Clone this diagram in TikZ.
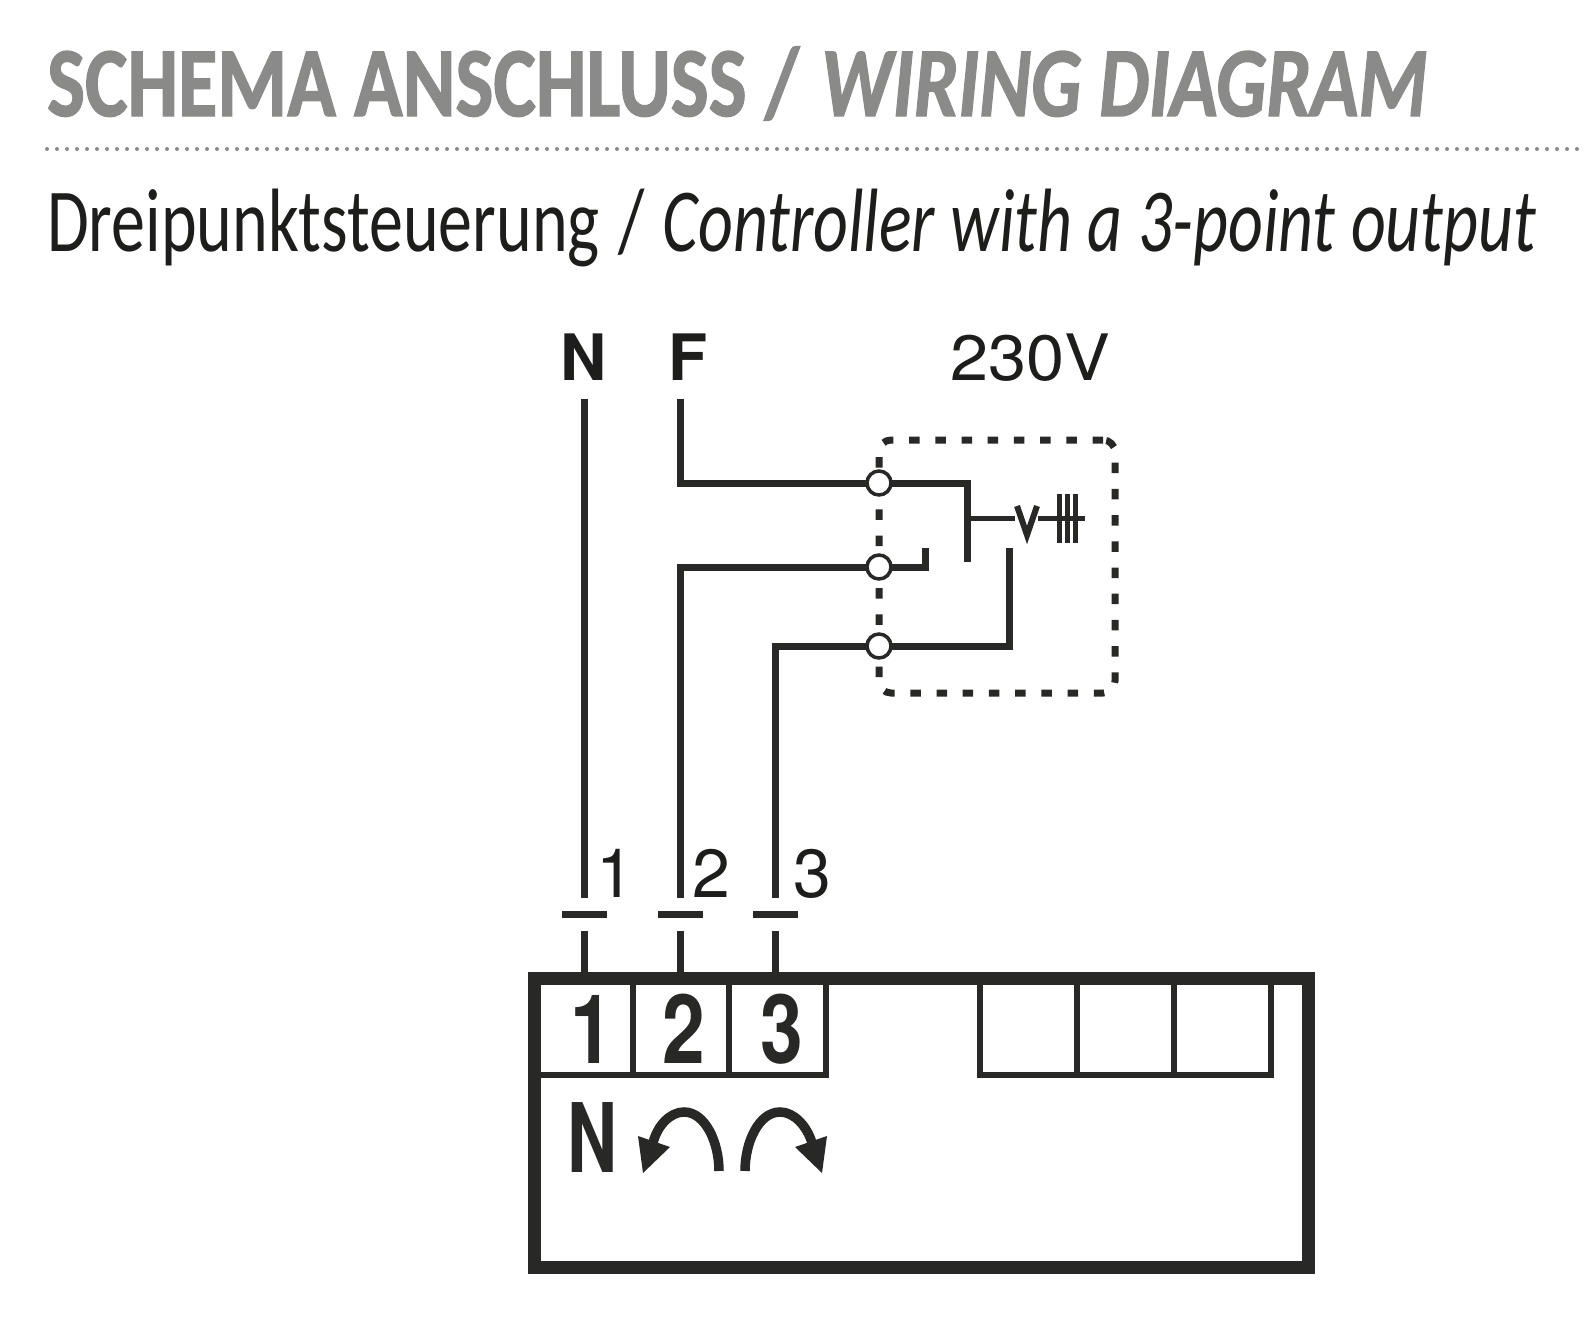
\documentclass[tikz,border=0pt]{standalone}
\usepackage{fontspec}
\usetikzlibrary{positioning}
\setmainfont{TeX Gyre Heros}
\newfontfamily\headfont[BoldFeatures={FakeBold=1.5},BoldItalicFeatures={FakeBold=1.5}]{Carlito}
\definecolor{headgray}{HTML}{8A8A89}
\definecolor{ink}{HTML}{282826}
\definecolor{letter}{HTML}{1D1D1B}
\tikzset{auto, minimum size=0pt, node distance=1cm, inner sep=0pt}
\tikzstyle{input} = [coordinate]
\tikzstyle{wire} = [draw=ink, line width=7pt]
\tikzstyle{thin wire} = [draw=ink, line width=5pt]
\tikzstyle{term} = [draw=ink, fill=white, circle, line width=3.5pt, minimum size=24pt, outer sep=0pt]
\tikzstyle{cell} = [draw=ink, rectangle, line width=5.5pt, minimum width=97pt, minimum height=97pt, outer sep=0pt]
\tikzstyle{bar} = [fill=ink, rectangle, minimum width=45pt, minimum height=7pt]
\tikzstyle{relay} = [draw=ink, line width=7pt, rectangle, rounded corners=12pt, dash pattern=on 10.5pt off 15.7pt, minimum width=236pt, minimum height=253pt]
\tikzstyle{digit} = [font=\fontsize{96}{96}\selectfont\bfseries, text=ink, anchor=base, xscale=0.8, transform shape]
\tikzstyle{pin} = [font=\fontsize{68}{68}\selectfont, text=letter, anchor=base]
\tikzstyle{supply} = [font=\fontsize{64}{64}\selectfont, text=letter, anchor=base]
\tikzstyle{turn} = [draw=ink, line width=9.5pt]
\tikzstyle{title} = [anchor=base west, text=headgray, font=\headfont\fontsize{99}{99}\selectfont\bfseries, transform shape]
\begin{document}
\begin{tikzpicture}[x=1pt, y=-1pt]
		\useasboundingbox (0,0) rectangle (1585,1333);

		\node [title, xscale=0.81] (title_de) at (47,116) {SCHEMA ANSCHLUSS /};
		\node [title, xscale=0.797] (title_en) at (821,116) {\itshape WIRING DIAGRAM};
		\coordinate (rule_l) at (47,149);
		\coordinate (rule_r) at (1585,149);
		\draw [headgray, line width=4pt, line cap=round, dash pattern=on 0pt off 10pt] (rule_l) -- (rule_r);
		\node [anchor=base west, text=letter, font=\headfont\fontsize{90}{90}\selectfont, xscale=0.755, transform shape] (subtitle) at (47,251) {Dreipunktsteuerung\hspace{4pt} / \hspace{4pt}\itshape Controller with a 3-point output};

		\node [supply, font=\fontsize{64}{64}\selectfont\bfseries] (lbl_n) at (584,380) {N};
		\node [supply, font=\fontsize{64}{64}\selectfont\bfseries] (lbl_f) at (688,380) {F};
		\node [supply, xscale=1.07, transform shape] (lbl_v) at (1030,380) {230V};

		\node [input] (in_n) at (584,399) {};
		\node [input, right=96pt of in_n] (in_f) {};

		\node [relay] (rel) at (997,566.5) {};
		\node [term] (term_f) at (879,483) {};
		\node [term, below=60pt of term_f] (term_a) {};
		\node [term, below=55pt of term_a] (term_b) {};

		\node [input] (end_1) at (584,898) {};
		\node [input, right=96pt of end_1] (end_2) {};
		\node [input, right=95pt of end_2] (end_3) {};

		\node [bar, below=16pt of end_1, anchor=center] (bar_1) {};
		\node [bar, below=16pt of end_2, anchor=center] (bar_2) {};
		\node [bar, below=16pt of end_3, anchor=center] (bar_3) {};

		\node [input, below=33pt of end_1] (stub_1) {};
		\node [input, below=33pt of end_2] (stub_2) {};
		\node [input, below=33pt of end_3] (stub_3) {};

		\node [pin] (pin_1) at (615,897) {1};
		\node [pin] (pin_2) at (711,897) {2};
		\node [pin] (pin_3) at (812,897) {3};

		\node [cell, minimum width=99pt, anchor=north west] (cell_1) at (534,978) {};
		\node [cell, minimum width=96pt, right=0pt of cell_1] (cell_2) {};
		\node [cell, right=0pt of cell_2] (cell_3) {};
		\node [cell, anchor=north west] (cell_4) at (980,978) {};
		\node [cell, right=0pt of cell_4] (cell_5) {};
		\node [cell, right=0pt of cell_5] (cell_6) {};
		\node [draw=ink, line width=13pt, minimum width=774pt, minimum height=289pt, anchor=north west] (device) at (528,972) {};

		\node [digit] (dig_1) at (592,1063) {1};
		\node [digit] (dig_2) at (684,1063) {2};
		\node [digit] (dig_3) at (782,1063) {3};
		\node [digit, xscale=0.9] (dig_n) at (592,1172) {N};

		\node [input] (c_top) at (967,483) {};
		\node [input] (c_low) at (967,562) {};
		\node [input] (c_mid) at (967,518) {};
		\node [input] (c_v) at (1015,518) {};
		\node [input] (no_top) at (925,548) {};
		\node [input] (nc_top) at (1009,548) {};

		\draw [wire] (in_n) -- (end_1);
		\draw [wire] (in_f) |- (term_f);
		\draw [wire] (end_2) |- (term_a);
		\draw [wire] (end_3) |- (term_b);

		\draw [wire] (term_f) -| (c_low);
		\draw [wire] (term_a) -| (no_top);
		\draw [wire] (term_b) -| (nc_top);

		\draw [wire] (stub_1) -- (stub_1 |- device.north);
		\draw [wire] (stub_2) -- (stub_2 |- device.north);
		\draw [wire] (stub_3) -- (stub_3 |- device.north);

		% valve symbol
		\coordinate (v_l) at (1017,506);
		\coordinate (v_b) at (1027,535);
		\coordinate (v_r) at (1037,506);
		\coordinate (v_e) at (1038,518);
		\coordinate (v_o) at (1085,518);
		\draw [thin wire] (c_mid) -- (c_v);
		\draw [thin wire] (v_e) -- (v_o);
		\draw [thin wire, line width=6pt] (v_l) -- (v_b) -- (v_r);
		\foreach \x in {1059,1067,1075}
			\draw [thin wire] (\x,494) -- (\x,543);

		% direction symbols
		\draw [turn] (719,1171) .. controls (719,1142) and (705,1112) .. (684,1112) .. controls (670,1112) and (657,1126) .. (653,1143);
		\fill [ink] (643,1173) -- (638,1136) -- (670,1147) -- cycle;
		\draw [turn] (745,1171) .. controls (745,1142) and (759,1112) .. (780,1112) .. controls (794,1112) and (807,1126) .. (812,1143);
		\fill [ink] (822,1173) -- (827,1136) -- (795,1147) -- cycle;
	\end{tikzpicture}
\end{document}
